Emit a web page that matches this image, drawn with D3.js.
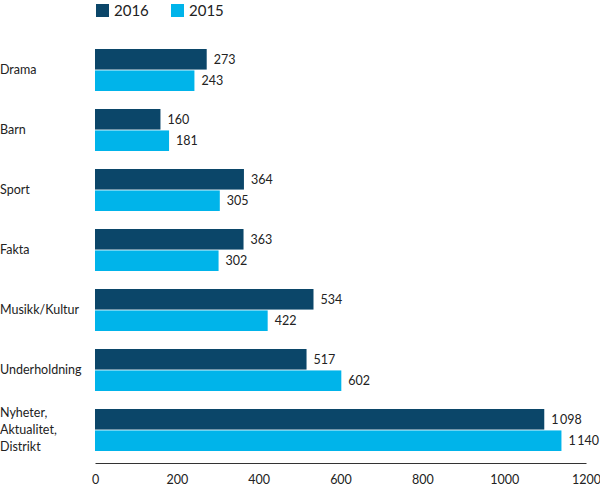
<!DOCTYPE html>
<html><head><meta charset="utf-8">
<script src="https://cdn.jsdelivr.net/npm/d3@7/dist/d3.min.js"></script>
<style>body{margin:0;background:#fff}svg{display:block}</style>
</head><body><svg id="c" width="600" height="492"></svg>
<script>
const categories = ["Drama","Barn","Sport","Fakta","Musikk/Kultur","Underholdning","Nyheter, Aktualitet, Distrikt"];
const categoryLines = [["Drama"],["Barn"],["Sport"],["Fakta"],["Musikk/Kultur"],["Underholdning"],["Nyheter,","Aktualitet,","Distrikt"]];
const values2016 = [273,160,364,363,534,517,1098];
const values2015 = [243,181,305,302,422,602,1140];
const valueLabels2016 = ["273","160","364","363","534","517","1\u2009098"];
const valueLabels2015 = ["243","181","305","302","422","602","1\u2009140"];
const seriesNames = ["2016","2015"];
const ticks = [0,200,400,600,800,1000,1200];
const colors = ["#0b4669","#00b4ea"];

const svg = d3.select("#c");
const font = "Lato, 'Open Sans', sans-serif";
const x = d3.scaleLinear().domain([0,1200]).range([95,586]);
const y = d3.scaleBand().domain(categories).range([40,460]).paddingInner(0.3).paddingOuter(0.15);
const sub = d3.scaleBand().domain(seriesNames).range([0, y.bandwidth()]).paddingInner(0.04);

// legend
const leg = [{n:"2016",x:96},{n:"2015",x:171}];
leg.forEach((l,i)=>{
  svg.append("rect").attr("x",l.x).attr("y",4).attr("width",13).attr("height",13).attr("fill",colors[i]);
  svg.append("text").attr("x",l.x+18).attr("y",16).attr("font-family",font).attr("font-size",15).attr("fill","#222").text(l.n);
});

const data = [values2016, values2015];
const labs = [valueLabels2016, valueLabels2015];
categories.forEach((c,ci)=>{
  const g = svg.append("g").attr("transform",`translate(0,${y(c)})`);
  seriesNames.forEach((s,si)=>{
    const v = data[si][ci];
    g.append("rect").attr("x",x(0)).attr("y",sub(s)).attr("width",x(v)-x(0)).attr("height",sub.bandwidth()).attr("fill",colors[si]);
    g.append("text").attr("x",x(v)+7).attr("y",sub(s)+sub.bandwidth()/2).attr("dy","0.35em")
      .attr("font-family",font).attr("font-size",12.5).attr("fill","#222").text(labs[si][ci]);
  });
  const lines = categoryLines[ci];
  const lh = 17;
  const t = g.append("text").attr("font-family",font).attr("font-size",12.5).attr("fill","#222");
  lines.forEach((ln,li)=>{
    t.append("tspan").attr("x",0).attr("y",y.bandwidth()/2 + (li-(lines.length-1)/2)*lh).attr("dy","0.35em").text(ln);
  });
});

// axis
const axis = svg.append("g").attr("transform","translate(0,463)")
  .call(d3.axisBottom(x).tickValues(ticks).tickSize(0).tickPadding(12).tickFormat(d3.format("d")));
axis.select(".domain").attr("stroke","#333").attr("stroke-width",1);
axis.selectAll("text").attr("font-family",font).attr("font-size",12.5).attr("fill","#222");
</script></body></html>
